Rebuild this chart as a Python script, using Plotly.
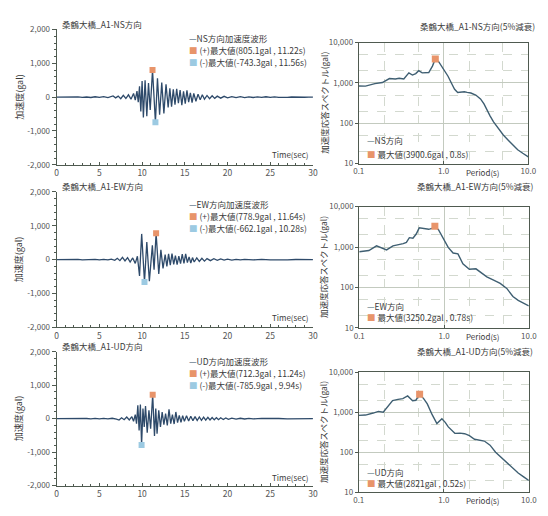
import plotly.graph_objects as go

# ---------------- data ----------------
BRIDGE = "桑鶴大橋_A1"
COMPONENTS = ["NS", "EW", "UD"]

# acceleration time histories (sec, gal)
ns_t = [0, 0.5, 1, 1.5, 2, 2.5, 3, 3.5, 4, 4.5, 5, 5.5, 6, 6.3, 6.6, 6.9, 7.2, 7.5, 7.8, 8.1,
        8.4, 8.7, 9.0, 9.2, 9.4, 9.55, 9.7, 9.85, 10.0, 10.15, 10.35, 10.55, 10.75, 10.95, 11.22,
        11.56, 11.8, 12.05, 12.3, 12.55, 12.8, 13.05, 13.25, 13.45, 13.65, 13.85, 14.05, 14.25,
        14.45, 14.65, 14.85, 15.05, 15.25, 15.45, 15.65, 15.85, 16.05, 16.3, 16.55, 16.8, 17.05,
        17.3, 17.6, 17.9, 18.2, 18.5, 18.8, 19.2, 19.6, 20, 20.5, 21, 21.5, 22, 22.5, 23, 23.5,
        24, 24.5, 25, 25.5, 26, 26.5, 27, 27.5, 28, 28.5, 29, 29.5, 30]
ns_a = [0, 4, -5, 6, -4, 8, -6, 5, -10, 12, -8, 15, -12, 20, 35, -20, 30, -45, 55, -40,
        70, -60, 110, -90, 180, -150, 320, -420, 480, -600, 500, -560, 420, -380, 805.1,
        -743.3, 560, -520, 430, -480, 380, -300, 260, -280, 230, -220, 250, -180,
        210, -240, 170, -190, 200, -150, 130, -160, 110, -120, 90, -80, 70,
        -60, 50, -45, 40, -35, 30, -30, 25, -20, 18, -15, 14, -12, 10, -10, 8,
        -8, 12, -6, 8, -5, 6, -4, 5, -4, 4, -3, 3, 0]

ew_t = [0, 0.5, 1, 1.5, 2, 2.5, 3, 3.5, 4, 4.5, 5, 5.5, 6, 6.4, 6.8, 7.1, 7.4, 7.7, 8.0, 8.3,
        8.6, 8.9, 9.2, 9.45, 9.7, 9.95, 10.28, 10.55, 10.85, 11.2, 11.4, 11.64, 11.95, 12.2,
        12.45, 12.7, 12.9, 13.1, 13.3, 13.5, 13.7, 13.9, 14.1, 14.3, 14.5, 14.7, 14.9, 15.1,
        15.3, 15.5, 15.7, 15.9, 16.1, 16.4, 16.7, 17.0, 17.3, 17.6, 18.0, 18.4, 18.8, 19.2,
        19.6, 20, 20.5, 21, 21.5, 22, 23, 24, 25, 26, 27, 28, 29, 30]
ew_a = [0, 3, -4, 5, -3, 6, -5, 4, -6, 8, -6, 10, -10, 15, -20, 40, -30, 70, -40, 60,
        -70, 50, -110, 100, -480, 760, -662.1, 520, -640, 420, -300, 778.9, -420, 290,
        -260, 150, -200, 170, -160, 180, -140, 120, -150, 100, -120, 160, -110, 170,
        -90, 80, -100, 60, -70, 50, -55, 40, -45, 30, -30, 25, -20, 20,
        -15, 12, -12, 10, -10, 8, -8, 6, -6, 5, -5, 4, -3, 0]

ud_t = [0, 0.5, 1, 1.5, 2, 2.5, 3, 3.5, 4, 4.5, 5, 5.5, 6, 6.5, 7, 7.3, 7.6, 7.9, 8.2, 8.5,
        8.8, 9.0, 9.2, 9.35, 9.5, 9.65, 9.8, 9.94, 10.1, 10.25, 10.4, 10.6, 10.8, 11.0, 11.24,
        11.45, 11.6, 11.75, 11.95, 12.15, 12.35, 12.55, 12.75, 12.95, 13.15, 13.35, 13.55,
        13.75, 13.95, 14.15, 14.35, 14.55, 14.75, 14.95, 15.2, 15.45, 15.7, 15.95, 16.2,
        16.45, 16.7, 16.95, 17.2, 17.45, 17.7, 17.95, 18.2, 18.45, 18.7, 18.95, 19.2, 19.5,
        19.8, 20.1, 20.5, 21, 21.5, 22, 22.5, 23, 24, 25, 26, 27, 28, 29, 30]
ud_a = [0, 3, -3, 4, -4, 5, -4, 5, -6, 6, -5, 8, -8, 12, -15, -40, 25, -30, 50, -40,
        60, -80, 120, -150, 400, -350, 420, -785.9, 300, -250, 380, -420, 250, -300, 712.3,
        -520, 300, -450, 250, -250, 200, -180, 150, -200, 280, -150, 120,
        -160, 200, -120, 100, -110, 90, -80, 90, -70, 70, -60, 60,
        -55, 50, -50, 45, -45, 40, -40, 35, -35, 30, -30, 25, -25,
        20, -20, 15, -15, 12, -10, 8, -8, 6, -5, 5, -4, 4, -3, 0]

# peak values: (gal, sec)
pos_peak = [(805.1, 11.22), (778.9, 11.64), (712.3, 11.24)]
neg_peak = [(-743.3, 11.56), (-662.1, 10.28), (-785.9, 9.94)]

# acceleration response spectra, 5% damping (sec, gal)
ns_T = [0.1, 0.12, 0.155, 0.19, 0.23, 0.27, 0.30, 0.34, 0.39, 0.43, 0.47, 0.51, 0.56, 0.62,
        0.67, 0.74, 0.8, 0.88, 0.95, 1.04, 1.13, 1.25, 1.35, 1.47, 1.6, 1.76, 1.9, 2.1, 2.4,
        2.73, 3.0, 3.26, 3.55, 3.89, 4.4, 5.07, 5.8, 6.6, 7.5, 8.6, 10.0]
ns_S = [836, 830, 955, 1020, 1280, 1250, 1300, 1250, 1770, 1560, 1700, 2010, 1770, 1750,
        1800, 2600, 3900.6, 3300, 2560, 1950, 1460, 950, 695, 580, 590, 600, 580, 560, 500,
        400, 300, 207, 150, 108, 75, 51, 38, 29, 22, 18, 14.7]

ew_T = [0.1, 0.13, 0.16, 0.19, 0.21, 0.25, 0.29, 0.33, 0.36, 0.39, 0.43, 0.47, 0.51, 0.58,
        0.66, 0.72, 0.78, 0.86, 0.94, 1.03, 1.12, 1.28, 1.46, 1.67, 1.99, 2.38, 2.8, 3.2,
        3.9, 4.6, 5.5, 6.5, 7.5, 8.7, 10.0]
ew_S = [769, 820, 1075, 950, 850, 1075, 1130, 1220, 1300, 1710, 1650, 2100, 2990, 2900,
        2750, 2900, 3250.2, 2700, 1880, 1350, 980, 713, 680, 388, 284, 290, 230, 184,
        150, 127, 95, 60, 48, 40, 35]

ud_T = [0.1, 0.12, 0.148, 0.17, 0.194, 0.22, 0.25, 0.29, 0.33, 0.376, 0.43, 0.47, 0.52,
        0.58, 0.64, 0.73, 0.83, 0.95, 1.04, 1.13, 1.35, 1.55, 1.76, 2.0, 2.3, 3.0, 3.5,
        4.07, 4.7, 5.5, 6.5, 7.5, 8.7, 10.0]
ud_S = [835, 850, 955, 1050, 1000, 1400, 1950, 2100, 2200, 2570, 1950, 2000, 2821,
        2200, 1620, 870, 520, 690, 560, 430, 296, 300, 290, 260, 211, 190, 150,
        100, 75, 54, 40, 30, 24, 19.5]

spec_peak = [(3900.6, 0.8), (3250.2, 0.78), (2821, 0.52)]

waves = [(ns_t, ns_a), (ew_t, ew_a), (ud_t, ud_a)]
spectra = [(ns_T, ns_S), (ew_T, ew_S), (ud_T, ud_S)]

# axis ticks
time_ticks = [0, 5, 10, 15, 20, 25, 30]
acc_ticks = [2000, 1000, 0, -1000, -2000]
acc_labels = ["2,000", "1,000", "0", "-1,000", "-2,000"]
per_ticks = [0.1, 1, 10]
per_labels = ["0.1", "1.0", "10.0"]
per_minor = [0.2, 0.5, 2, 5]
sa_ticks = [10, 100, 1000, 10000]
sa_labels = ["10", "100", "1,000", "10,000"]
sa_minor = [20, 50, 200, 500, 2000, 5000]

# ---------------- style ----------------
W, H = 548, 516
FONT = "Noto Sans CJK JP"
WAVE_COLOR = "#2e4a6a"
SPEC_COLOR = "#3f5f72"
POS_COLOR = "#e8946a"
NEG_COLOR = "#9ccae2"
AXIS_COLOR = "#4f5a50"
TEXT_COLOR = "#3a3a3a"
TICK_COLOR = "#555555"


def px_x(v):
    return v / W


def px_y(v):
    return 1 - v / H


# plot areas in pixels: (left, right, top, bottom)
left_boxes = [(52, 315, 24, 162.3), (52, 315, 190, 328.3), (52, 315, 353.3, 490)]
right_boxes = [(362, 536, 37.3, 161), (362.5, 536.5, 205, 329), (362, 536.5, 374.3, 496.7)]

# text positions (pixels)
left_title_y = [18, 184, 347]
right_title_y = [20, 184, 353]
right_title_x = [545, 543, 543]
left_legend_y = [[33, 45, 57], [202, 215, 227], [363, 375, 387]]
right_legend_y = [[137, 151], [307, 318], [476, 487]]
time_label_y = [152, 318, 482]

fig = go.Figure()
layout = dict(
    width=W, height=H,
    margin=dict(l=0, r=0, t=0, b=0),
    paper_bgcolor="white", plot_bgcolor="white",
    showlegend=False,
    font=dict(family=FONT, size=9, color=TICK_COLOR),
)
annotations = []

for i, comp in enumerate(COMPONENTS):
    # ---- time history ----
    xa, ya = 2 * i + 1, 2 * i + 1
    xn = "x" if xa == 1 else f"x{xa}"
    yn = "y" if ya == 1 else f"y{ya}"
    t, a = waves[i]
    fig.add_trace(go.Scatter(x=t, y=a, mode="lines", xaxis=xn, yaxis=yn,
                             line=dict(color=WAVE_COLOR, width=1.3)))
    pa, pt = pos_peak[i]
    na, nt = neg_peak[i]
    fig.add_trace(go.Scatter(x=[pt], y=[pa], mode="markers", xaxis=xn, yaxis=yn,
                             marker=dict(symbol="square", size=6, color=POS_COLOR)))
    fig.add_trace(go.Scatter(x=[nt], y=[na], mode="markers", xaxis=xn, yaxis=yn,
                             marker=dict(symbol="square", size=6, color=NEG_COLOR)))

    l, r, tp, bt = left_boxes[i]
    layout[f"xaxis{xa}"] = dict(
        domain=[px_x(l), px_x(r)], anchor=yn, range=[0, 30],
        tickvals=time_ticks, ticks="inside", ticklen=3, tickcolor=AXIS_COLOR,
        minor=dict(dtick=1, ticks="inside", ticklen=2, tickcolor=AXIS_COLOR),
        showline=True, linecolor=AXIS_COLOR, linewidth=1, showgrid=False,
        zeroline=False, tickfont=dict(size=8.5, color=TICK_COLOR), fixedrange=True,
    )
    layout[f"yaxis{ya}"] = dict(
        domain=[px_y(bt), px_y(tp)], anchor=xn, range=[-2000, 2000],
        tickvals=acc_ticks, ticktext=acc_labels, ticks="outside", ticklen=4,
        tickcolor=AXIS_COLOR,
        minor=dict(dtick=200, ticks="outside", ticklen=2, tickcolor=AXIS_COLOR),
        showline=True, linecolor=AXIS_COLOR, linewidth=1, showgrid=False,
        zeroline=False, tickfont=dict(size=8, color=TICK_COLOR), fixedrange=True,
    )
    annotations.append(dict(
        text=f"{BRIDGE}-{comp}方向", x=px_x(55), y=px_y(left_title_y[i]),
        xref="paper", yref="paper", xanchor="left", yanchor="middle", showarrow=False,
        font=dict(size=8.5, color=TEXT_COLOR)))
    annotations.append(dict(
        text="加速度(gal)", x=px_x(13), y=px_y((tp + bt) / 2), textangle=-90,
        xref="paper", yref="paper", xanchor="center", yanchor="middle", showarrow=False,
        font=dict(size=9, color=TEXT_COLOR)))
    annotations.append(dict(
        text="Time(sec)", x=px_x(313), y=px_y(time_label_y[i]),
        xref="paper", yref="paper", xanchor="right", yanchor="middle", showarrow=False,
        font=dict(size=8, color=TEXT_COLOR)))
    leg = [
        f'<span style="color:{WAVE_COLOR}">—</span>{comp}方向加速度波形',
        f'<span style="color:{POS_COLOR}">■</span> (+)最大値({pa}gal , {pt:.2f}s)',
        f'<span style="color:{NEG_COLOR}">■</span> (-)最大値({na}gal , {nt:.2f}s)',
    ]
    for txt, yy in zip(leg, left_legend_y[i]):
        annotations.append(dict(
            text=txt, x=px_x(186), y=px_y(yy), xref="paper", yref="paper",
            xanchor="left", yanchor="middle", showarrow=False,
            font=dict(size=8.5, color=TEXT_COLOR)))

    # ---- response spectrum ----
    xs, ys = 2 * i + 2, 2 * i + 2
    xsn, ysn = f"x{xs}", f"y{ys}"
    T, S = spectra[i]
    fig.add_trace(go.Scatter(x=T, y=S, mode="lines", xaxis=xsn, yaxis=ysn,
                             line=dict(color=SPEC_COLOR, width=1.4)))
    sv, st = spec_peak[i]
    fig.add_trace(go.Scatter(x=[st], y=[sv], mode="markers", xaxis=xsn, yaxis=ysn,
                             marker=dict(symbol="square", size=7, color=POS_COLOR)))
    l, r, tp, bt = right_boxes[i]
    layout[f"xaxis{xs}"] = dict(
        domain=[px_x(l), px_x(r)], anchor=ysn, type="log", range=[-1, 1],
        tickvals=per_ticks, ticktext=per_labels, ticks="inside", ticklen=3,
        tickcolor=AXIS_COLOR,
        showline=True, linecolor=AXIS_COLOR, linewidth=1, mirror=True,
        showgrid=True, gridcolor="#c3cabf", gridwidth=1,
        minor=dict(tickvals=per_minor, showgrid=True, gridcolor="#d3d9cf",
                   griddash="dash", ticks=""),
        zeroline=False, tickfont=dict(size=8, color=TICK_COLOR), fixedrange=True,
    )
    layout[f"yaxis{ys}"] = dict(
        domain=[px_y(bt), px_y(tp)], anchor=xsn, type="log", range=[1, 4],
        tickvals=sa_ticks, ticktext=sa_labels, ticks="outside", ticklen=3,
        tickcolor=AXIS_COLOR,
        showline=True, linecolor=AXIS_COLOR, linewidth=1, mirror=True,
        showgrid=True, gridcolor="#c3cabf", gridwidth=1,
        minor=dict(tickvals=sa_minor, showgrid=True, gridcolor="#d3d9cf",
                   griddash="dash", ticks=""),
        zeroline=False, tickfont=dict(size=8, color=TICK_COLOR), fixedrange=True,
    )
    annotations.append(dict(
        text=f"{BRIDGE}-{comp}方向(5%減衰)", x=px_x(right_title_x[i]),
        y=px_y(right_title_y[i]), xref="paper", yref="paper", xanchor="right",
        yanchor="middle", showarrow=False, font=dict(size=8.5, color=TEXT_COLOR)))
    annotations.append(dict(
        text="加速度応答スペクトル(gal)", x=px_x(326), y=px_y((tp + bt) / 2),
        textangle=-90, xref="paper", yref="paper", xanchor="center", yanchor="middle",
        showarrow=False, font=dict(size=8.5, color=TEXT_COLOR)))
    annotations.append(dict(
        text="Period(s)", x=px_x(489), y=px_y(bt + 9), xref="paper", yref="paper",
        xanchor="center", yanchor="middle", showarrow=False,
        font=dict(size=8, color=TEXT_COLOR)))
    sleg = [
        f'<span style="color:{SPEC_COLOR}">—</span>{comp}方向',
        f'<span style="color:{POS_COLOR}">■</span> 最大値({sv}gal , {st}s)',
    ]
    for txt, yy in zip(sleg, right_legend_y[i]):
        annotations.append(dict(
            text=txt, x=px_x(368), y=px_y(yy), xref="paper", yref="paper",
            xanchor="left", yanchor="middle", showarrow=False,
            font=dict(size=8.5, color=TEXT_COLOR)))

layout["annotations"] = annotations
fig.update_layout(**layout)
fig.write_html("out.html")
